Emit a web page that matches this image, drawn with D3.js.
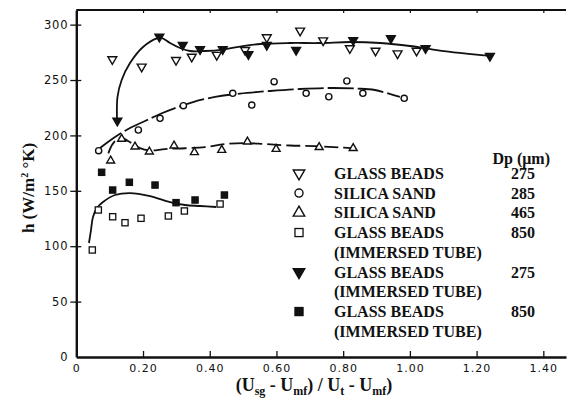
<!DOCTYPE html>
<html><head><meta charset="utf-8">
<script src="https://cdn.jsdelivr.net/npm/d3@7"></script>
<style>body{margin:0;background:#fff}</style>
</head><body><svg id="c" width="567" height="406"></svg>
<script>
// ---------- data ----------
const xTicks = [0, 0.2, 0.4, 0.6, 0.8, 1.0, 1.2, 1.4];
const xTickLabels = ["0", "0.20", "0.40", "0.60", "0.80", "1.00", "1.20", "1.40"];
const yTicks = [0, 50, 100, 150, 200, 250, 300];

// Glass beads 275 (open down triangle)
const gb275 = [[0.108,268.7],[0.196,262],[0.299,268],[0.346,271],[0.421,272.6],[0.506,277],[0.571,288.5],[0.671,294.5],[0.740,285.7],[0.820,278.6],[0.897,276.4],[0.963,274],[1.020,276.4]];
// Silica sand 285 (open circle)
const ss285 = [[0.067,186.2],[0.186,204.9],[0.251,215.4],[0.321,226.8],[0.469,238],[0.526,227.4],[0.593,248.5],[0.689,238],[0.757,234.9],[0.811,249.1],[0.859,238],[0.983,233.5]];
// Silica sand 465 (open up triangle)
const ss465 = [[0.103,177.2],[0.136,196.8],[0.176,189.8],[0.219,185.3],[0.293,190.7],[0.354,184.7],[0.436,186.8],[0.513,194.3],[0.599,187.7],[0.728,189.3],[0.830,188.4]];
// Glass beads 850 immersed tube (open square)
const gb850 = [[0.048,96.6],[0.066,132.7],[0.109,126.6],[0.146,121.2],[0.194,125.2],[0.276,127.3],[0.324,131.8],[0.431,138.1]];
// Glass beads 275 immersed tube (filled down triangle)
const gb275i = [[0.123,213.3],[0.249,289],[0.319,281.6],[0.371,277.7],[0.439,277.7],[0.516,273.2],[0.571,281.6],[0.659,277],[0.830,286],[0.943,287.6],[1.047,278.6],[1.240,271.7]];
// Glass beads 850 immersed tube (filled square)
const gb850i = [[0.076,166.7],[0.109,150.7],[0.159,157.7],[0.236,155.2],[0.299,139.3],[0.356,141.7],[0.444,146.2]];

// trend curves
const curveGb275i = [[0.122,215.7],[0.1235,234.7],[0.136,250],[0.161,265.3],[0.2,279.8],[0.242,287.6],[0.257,287.9],[0.281,283.4],[0.311,278.9],[0.341,276.2],[0.386,276.2],[0.44,277.5],[0.491,280.2],[0.551,282.5],[0.641,283.4],[0.731,283.4],[0.821,284.3],[0.911,283.4],[1.0,280.7],[1.09,276.6],[1.24,271.7]];
const curveSs285 = [[0.071,188.6],[0.116,198.6],[0.161,206.7],[0.206,213],[0.251,219.3],[0.296,224.7],[0.35,230.1],[0.416,234.7],[0.491,237.8],[0.581,240.1],[0.671,241.9],[0.76,242.8],[0.841,242.3],[0.895,241],[0.97,234.7]];
const curveSs465 = [[0.096,183.8],[0.107,191.3],[0.119,195.8],[0.134,198.1],[0.155,194.9],[0.191,188.6],[0.221,186.4],[0.266,187.7],[0.326,188.4],[0.386,189.5],[0.446,192.2],[0.506,193.1],[0.566,192.2],[0.64,190.9],[0.715,190.4],[0.79,189.1],[0.826,188.6]];
const curveGb850 = [[0.038,102.9],[0.044,114.6],[0.05,126.4],[0.062,134.5],[0.08,139.9],[0.116,146.2],[0.161,148],[0.221,145.3],[0.281,139.9],[0.326,137.2],[0.371,136.3],[0.419,135.4]];

// legend
const legendSymbols = ["triDownOpen","circleOpen","triUpOpen","squareOpen","triDownFilled","squareFilled"];
const legendMaterial = ["GLASS BEADS","SILICA SAND","SILICA SAND","GLASS BEADS","GLASS BEADS","GLASS BEADS"];
const legendSub = ["","","","(IMMERSED TUBE)","(IMMERSED TUBE)","(IMMERSED TUBE)"];
const legendDp = ["275","285","465","850","275","850"];

// ---------- drawing ----------
const svg = d3.select("#c");
const ink = "#111";
const x = d3.scaleLinear().domain([0, 1.468]).range([76.3, 566]);
const y = d3.scaleLinear().domain([0, 313.2]).range([357, 10]);

// frame top line
svg.append("line").attr("x1", x(0)).attr("x2", x(1.468)).attr("y1", y(313.2)).attr("y2", y(313.2))
  .attr("stroke", ink).attr("stroke-width", 2.2);

// x axis
const xa = svg.append("g").attr("transform", `translate(0,${y(0)})`)
  .call(d3.axisBottom(x).tickValues(xTicks).tickSize(-6).tickSizeOuter(0)
    .tickFormat((d, i) => xTickLabels[i]));
xa.select(".domain").attr("stroke", ink).attr("stroke-width", 2.4);
xa.selectAll(".tick line").attr("stroke", ink).attr("stroke-width", 1.3);
xa.selectAll(".tick text").attr("y", 7).attr("font-family", "DejaVu Sans").attr("font-size", 11)
  .attr("letter-spacing", 1).attr("fill", ink);
xa.selectAll(".tick").filter(d => d === 0).select("line").remove();

// top ticks
const xt = svg.append("g").attr("transform", `translate(0,${y(313.2)})`)
  .call(d3.axisTop(x).tickValues(xTicks.slice(1)).tickSize(-3).tickFormat(""));
xt.select(".domain").remove();
xt.selectAll(".tick line").attr("stroke", ink).attr("stroke-width", 1.2);

// y axis
const ya = svg.append("g").attr("transform", `translate(${x(0)},0)`)
  .call(d3.axisLeft(y).tickValues(yTicks).tickSize(6).tickSizeOuter(0));
ya.select(".domain").attr("stroke", ink).attr("stroke-width", 2.4);
ya.selectAll(".tick line").attr("stroke", ink).attr("stroke-width", 1.3).attr("x2", 5).attr("x1", -6);
ya.selectAll(".tick text").attr("x", -8).attr("font-family", "DejaVu Sans").attr("font-size", 11.5)
  .attr("letter-spacing", 0.8).attr("fill", ink);
ya.selectAll(".tick").filter(d => d === 0).select("line").remove();

// curves
const line = d3.line().x(d => x(d[0])).y(d => y(d[1])).curve(d3.curveCatmullRom);
const curves = [
  {d: curveGb275i, dash: null},
  {d: curveSs285, dash: "26 4"},
  {d: curveSs465, dash: "14 5"},
  {d: curveGb850, dash: null}
];
curves.forEach(c => {
  svg.append("path").attr("d", line(c.d)).attr("fill", "none").attr("stroke", ink)
    .attr("stroke-width", 1.8).attr("stroke-dasharray", c.dash);
});

// marker helpers
function drawMarker(g, kind, cx, cy, scale) {
  const s = scale || 1;
  if (kind === "triDownOpen" || kind === "triDownFilled" || kind === "triUpOpen") {
    const p = d3.symbol().type(d3.symbolTriangle).size(34 * s * s)();
    g.append("path").attr("d", p)
      .attr("transform", `translate(${cx},${cy})` + (kind === "triUpOpen" ? "" : " rotate(180)"))
      .attr("fill", kind === "triDownFilled" ? ink : "#fff").attr("stroke", ink).attr("stroke-width", 1.4);
  } else if (kind === "circleOpen") {
    g.append("circle").attr("cx", cx).attr("cy", cy).attr("r", 3.1 * s)
      .attr("fill", "#fff").attr("stroke", ink).attr("stroke-width", 1.4);
  } else if (kind === "squareOpen" || kind === "squareFilled") {
    const w = 6.2 * s;
    g.append("rect").attr("x", cx - w / 2).attr("y", cy - w / 2).attr("width", w).attr("height", w)
      .attr("fill", kind === "squareFilled" ? ink : "#fff").attr("stroke", ink).attr("stroke-width", 1.3);
  }
}

const series = [
  {d: gb275, k: "triDownOpen"},
  {d: ss285, k: "circleOpen"},
  {d: ss465, k: "triUpOpen"},
  {d: gb850, k: "squareOpen"},
  {d: gb850i, k: "squareFilled"},
  {d: gb275i, k: "triDownFilled"}
];
const mg = svg.append("g");
series.forEach(s => s.d.forEach(p => drawMarker(mg, s.k, x(p[0]), y(p[1]), s.k === "triUpOpen" ? 0.9 : 1)));

// legend
const serif = "'Liberation Serif', 'Times New Roman', serif";
const lg = svg.append("g").attr("font-family", serif).attr("font-weight", "bold").attr("font-size", 16).attr("fill", ink);
lg.append("text").attr("x", 550).attr("y", 163.5).attr("text-anchor", "end").text("Dp (\u03bcm)");
let lineIdx = 0;
legendMaterial.forEach((m, i) => {
  const cy = 173.3 + lineIdx * 19.75;
  drawMarker(lg, legendSymbols[i], 299, cy, 1.3);
  lg.append("text").attr("x", 334).attr("y", cy + 5.5).text(m);
  lg.append("text").attr("x", 535).attr("y", cy + 5.5).attr("text-anchor", "end").text(legendDp[i]);
  lineIdx++;
  if (legendSub[i]) {
    lg.append("text").attr("x", 334).attr("y", 173.3 + lineIdx * 19.75 + 5.5).text(legendSub[i]);
    lineIdx++;
  }
});

// axis titles
const xt2 = svg.append("text").attr("x", 314).attr("y", 391).attr("text-anchor", "middle")
  .attr("font-family", serif).attr("font-weight", "bold").attr("font-size", 18).attr("fill", ink);
const parts = [["(U",0],["sg",1],[" - U",0],["mf",1],[") / U",0],["t",1],[" - U",0],["mf",1],[")",0]];
parts.forEach((p, i) => {
  const t = xt2.append("tspan").text(p[0]);
  if (p[1]) t.attr("font-size", 12).attr("dy", 4);
  else if (i > 0) t.attr("dy", -4);
});

const yt = svg.append("text").attr("transform", "translate(34,188) rotate(-90)").attr("text-anchor", "middle")
  .attr("font-family", serif).attr("font-weight", "bold").attr("font-size", 17).attr("fill", ink);
yt.append("tspan").text("h (W/m");
yt.append("tspan").text("2").attr("font-size", 10).attr("dy", -6);
yt.append("tspan").text(" \u00b0K)").attr("dy", 6);
</script></body></html>
